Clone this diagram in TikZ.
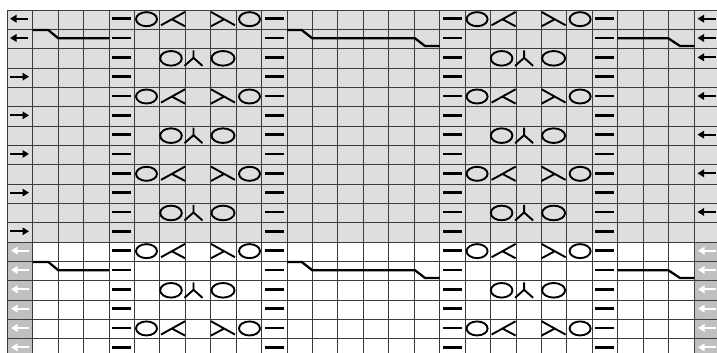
\documentclass[tikz,border=0pt]{standalone}
\usetikzlibrary{arrows.meta}
\definecolor{lg}{RGB}{222,221,223}
\definecolor{dg}{RGB}{192,192,192}
\definecolor{gl}{RGB}{60,60,60}
\begin{document}
\begin{tikzpicture}[x=1pt,y=-1pt,
  sym/.style={line width=1.9pt},
  cab/.style={line width=2.3pt},
  purlbar/.style={line width=2.6pt},
  arr/.style={line width=2.1pt,-{Triangle[length=6.5pt,width=7.5pt]}},
  warr/.style={arr,white},
  gridline/.style={gl,line width=0.8pt},
  grpA/.pic={
    \draw[sym] (-51.5,-0.5) ellipse[x radius=10.5,y radius=7];
    \draw[sym] (51.5,-0.5) ellipse[x radius=10.5,y radius=7];
    \draw[sym] (-37,5.6) -- (-13,-7.7) (-26.2,-0.4) -- (-13,6.6);
    \draw[sym] (37,5.6) -- (13,-7.7) (26.2,-0.4) -- (13,6.6);
  },
  grpB/.pic={
    \draw[sym] (-27,0) ellipse[x radius=10.8,y radius=7.3];
    \draw[sym] (25,0) ellipse[x radius=11.5,y radius=7.3];
    \draw[sym] (-4.5,-8) -- (-4.5,-0.5) (-13.5,7.5) -- (-4.5,-0.5) -- (4.5,7.5);
  },
  dashes/.pic={
    \draw[purlbar] (-85.8,-1) -- (-66.8,-1);
    \draw[purlbar] (66.8,-1) -- (85.8,-1);
  }]
\useasboundingbox (0,0) rectangle (717,353);
\fill[white] (0,0) rectangle (717,353);
\begin{scope}
\clip (0,0) rectangle (717,353);
% backgrounds
\fill[lg] (7.3,10) rectangle (720,241.96);
\fill[dg] (7.3,241.96) rectangle (32.73,360);
\fill[dg] (694.34,241.96) rectangle (720,360);
% grid
\foreach \k in {0,...,28} \draw[gridline] ({7.3+\k*25.43},10) -- ({7.3+\k*25.43},360);
\foreach \r in {0,...,18} \draw[gridline] (7.3,{10+\r*19.33}) -- (720,{10+\r*19.33});
% purl dashes in every row
\foreach \r in {1,...,18}{
  \pgfmathsetmacro\cy{10+(\r-1)*19.33+9.67}
  \foreach \cx in {198.0,528.6} \pic at (\cx,\cy) {dashes};
}
% yarn-over rows
\foreach \r in {1,5,9,13,17}{
  \pgfmathsetmacro\cy{10+(\r-1)*19.33+9.67}
  \foreach \cx in {198.0,528.6} \pic at (\cx,\cy) {grpA};
}
\foreach \r in {3,7,11,15}{
  \pgfmathsetmacro\cy{10+(\r-1)*19.33+9.67}
  \foreach \cx in {198.0,528.6} \pic at (\cx,\cy) {grpB};
}
% cable lines (rows 2 and 14)
\foreach \dy in {0,231.96}{
  \begin{scope}[shift={(0,\dy)}]
    \draw[cab] (32.73,30) -- (48.3,30) -- (58.3,38.3) -- (109,38.3);
    \draw[cab] (287.03,30) -- (301.7,30) -- (312.3,38.3) -- (415,38.3) -- (425,46) -- (439.6,46);
    \draw[cab] (617.6,38.3) -- (668.3,38.3) -- (680,46) -- (694.34,46);
  \end{scope}
}
% arrows, left column
\foreach \r in {1,2}{
  \pgfmathsetmacro\cy{10+(\r-1)*19.33+8.67}
  \draw[arr] (28,\cy) -- (10,\cy);
}
\foreach \r in {4,6,8,10,12}{
  \pgfmathsetmacro\cy{10+(\r-1)*19.33+8.67}
  \draw[arr] (10,\cy) -- (29,\cy);
}
% arrows, right column
\foreach \r in {1,2,3,5,7,9,11}{
  \pgfmathsetmacro\cy{10+(\r-1)*19.33+8.67}
  \draw[arr] (716,\cy) -- (697.5,\cy);
}
% white arrows in the lower part
\foreach \r in {13,...,18}{
  \pgfmathsetmacro\cy{10+(\r-1)*19.33+8.67}
  \draw[warr] (29,\cy) -- (11,\cy);
  \draw[warr] (716,\cy) -- (698,\cy);
}
\end{scope}
\end{tikzpicture}
\end{document}
